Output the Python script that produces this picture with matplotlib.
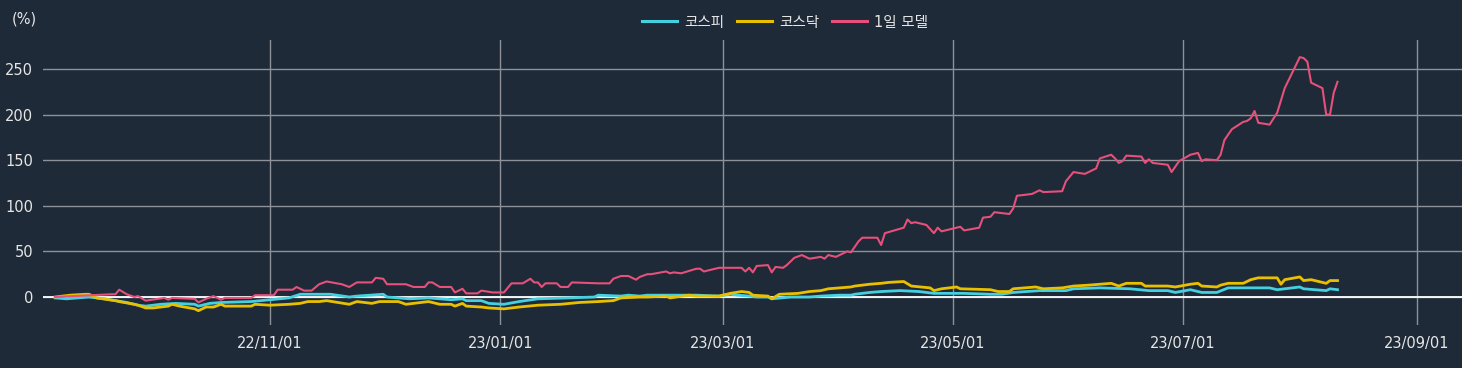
import numpy as np
import matplotlib
matplotlib.use("Agg")
import matplotlib.pyplot as plt
import matplotlib.dates as mdates

plt.rcParams['font.family'] = ['DejaVu Sans', 'Noto Sans CJK KR']

# ---- data: x = days since 2022-11-01, y = return (%) ----
base_date = np.datetime64('2022-11-01')

kospi_days = [-57, -54, -48, -44, -41, -38, -36, -35, -33, -29, -25, -20, -19, -16, -13, -5, 0, 5, 8, 16,
              21, 23, 30, 31, 37, 42, 45, 48, 51, 52, 56, 58, 62, 66, 71, 79, 86, 87, 93, 95, 98,
              100, 103, 113, 119, 122, 124, 127, 129, 132, 133, 138, 143, 146, 151, 154, 155, 159, 162, 167,
              172, 176, 178, 184, 191, 194, 197, 204, 211, 213, 220, 228, 233, 238, 240, 244, 246,
              247, 251, 254, 265, 267, 273, 274, 280, 281, 283]
kospi_vals = [-1, -2, 0, -2, -4, -6, -8, -9, -10, -8, -7, -8, -10, -7, -6, -5, -3, -1, 3, 3,
              0, 1, 3, 0, -2, -1, -2, -3, -2, -4, -4, -7, -8, -5, -2, -1, 0, 2, 1, 2, 1,
              2, 2, 2, 1, 3, 2, 1, 0, 0, -2, 0, 0, 1, 2, 2, 3, 5, 6, 7,
              6, 4, 4, 4, 3, 3, 5, 7, 7, 9, 10, 9, 7, 7, 5, 8, 6,
              5, 5, 10, 10, 8, 11, 9, 7, 9, 8]

kosdaq_days = [-57, -53, -49, -48, -46, -41, -40, -36, -35, -33, -31, -27, -26, -24, -20, -19, -17, -15, -13, -12,
               -5, -4, 0, 5, 8, 10, 13, 15, 21, 23, 27, 29, 34, 36, 42, 45, 48, 49, 51, 52, 56, 58, 62, 66,
               71, 77, 82, 87, 91, 93, 98, 100, 105, 106, 111, 113, 119, 122, 125, 127, 128, 132, 133, 135,
               140, 143, 146, 148, 154, 155, 157, 159, 162, 164, 168, 170, 175, 176, 178, 182, 183, 191,
               193, 196, 197, 203, 205, 210, 213, 217, 220, 223, 225, 227, 231, 232, 238, 240, 244, 246,
               247, 251, 252, 254, 258, 260, 262, 267, 268, 269, 273, 274, 276, 280, 281, 283]
kosdaq_vals = [0, 2, 3, 3, -1, -4, -5, -8, -9, -12, -12, -10, -8, -10, -13, -15, -11, -11, -8, -10,
               -10, -8, -9, -8, -7, -5, -5, -4, -8, -5, -7, -5, -5, -8, -5, -8, -8, -10, -7, -10, -11, -12, -13, -11,
               -9, -8, -6, -5, -4, -1, 0, 0, 1, -1, 2, 1, 1, 4, 6, 5, 2, 1, -2, 3,
               4, 6, 7, 9, 11, 12, 13, 14, 15, 16, 17, 12, 10, 7, 9, 11, 9, 8,
               6, 6, 9, 11, 9, 10, 12, 13, 14, 15, 12, 15, 15, 12, 12, 11, 14, 15,
               12, 11, 13, 15, 15, 19, 21, 21, 14, 19, 22, 18, 19, 15, 18, 18]

model_days = [-57, -47, -42, -41, -40, -38, -36, -35, -33, -28, -27, -26, -20, -19, -17, -15, -13, -12, -5, -4,
              1, 2, 6, 7, 9, 11, 13, 15, 19, 21, 23, 27, 28, 30, 31, 36, 38, 41, 42, 43, 45, 48, 49, 51, 52,
              55, 56, 59, 62, 64, 67, 69, 70, 71, 72, 73, 76, 77, 79, 80, 87, 90, 91, 93, 95, 97, 98,
              100, 101, 105, 106, 107, 109, 113, 114, 115, 119, 125, 126, 127, 128, 129, 132, 133, 134, 136,
              137, 139, 141, 143, 146, 147, 148, 150, 153, 154, 156, 157, 161, 162, 163, 168, 169, 170, 171,
              174, 176, 177, 178, 183, 184, 188, 189, 191, 192, 196, 197, 198, 202, 204, 205, 210, 211, 213,
              216, 219, 220, 223, 224, 225, 226, 227, 231, 232, 233, 234, 238, 239, 241, 244, 246,
              247, 248, 251, 252, 253, 255, 258, 259, 260, 261, 262, 265, 267, 269, 271, 273, 274, 275, 276,
              279, 280, 281, 282, 283]
model_vals = [0, 2, 3, 3, 8, 3, 0, 1, -4, -1, -3, -1, -2, -6, -2, 1, -3, -1, -1, 2,
              2, 8, 8, 11, 7, 7, 14, 17, 14, 11, 16, 16, 21, 20, 14, 14, 11, 11, 16, 16, 11, 11, 5, 9, 4,
              4, 7, 5, 5, 15, 15, 20, 16, 16, 11, 15, 15, 11, 11, 16, 15, 15, 20, 23, 23, 19, 22,
              25, 25, 28, 26, 27, 26, 31, 31, 28, 32, 32, 28, 32, 27, 34, 35, 27, 33, 32,
              35, 43, 46, 42, 44, 42, 46, 44, 50, 49, 61, 65, 65, 57, 70, 76, 85, 81, 82,
              79, 70, 76, 72, 77, 73, 76, 87, 88, 93, 91, 97, 111, 113, 117, 115, 116, 127, 137,
              135, 141, 152, 156, 152, 147, 149, 155, 154, 147, 151, 147, 145, 137, 149, 156, 158,
              149, 151, 150, 156, 172, 184, 192, 193, 196, 204, 191, 189, 202, 229, 246, 263, 262, 258, 235,
              229, 200, 200, 224, 236]

series_names = ['코스피', '코스닥', '1일 모델']
y_ticks = [0, 50, 100, 150, 200, 250]
x_tick_dates = ['2022-11-01', '2023-01-01', '2023-03-01', '2023-05-01', '2023-07-01', '2023-09-01']

# ---- style ----
BG = '#1e2a38'
GRID = '#8e9298'
TXT = '#e6e6e6'
COLORS = ['#45d0e0', '#e8c000', '#e6507a']


def to_dates(days):
    return base_date + np.array(days).astype('timedelta64[D]')


fig = plt.figure(figsize=(14.62, 3.68), dpi=100, facecolor=BG)
ax = fig.add_axes([43 / 1462, 1 - 325 / 368, 1 - 43 / 1462, (325 - 40) / 368])
ax.set_facecolor(BG)

ax.plot(to_dates(kospi_days), kospi_vals, color=COLORS[0], lw=2.0, label=series_names[0], zorder=3)
ax.plot(to_dates(kosdaq_days), kosdaq_vals, color=COLORS[1], lw=2.0, label=series_names[1], zorder=4)
ax.plot(to_dates(model_days), model_vals, color=COLORS[2], lw=1.5, label=series_names[2], zorder=5)

ax.axhline(0, color='white', lw=1.3, zorder=2)

ax.set_xlim(base_date - np.timedelta64(60, 'D') - np.timedelta64(5, 'h'),
            base_date + np.timedelta64(316, 'D'))
ax.set_ylim(-30.7, 281.8)

ax.set_yticks(y_ticks)
ax.set_xticks([np.datetime64(d) for d in x_tick_dates])
ax.xaxis.set_major_formatter(mdates.DateFormatter('%y/%m/%d'))

ax.grid(True, color=GRID, lw=1.0, zorder=1)
ax.set_axisbelow(True)

for s in ax.spines.values():
    s.set_visible(False)
ax.tick_params(axis='both', length=0, colors=TXT, labelsize=10.5)
ax.tick_params(axis='y', pad=7)
ax.tick_params(axis='x', pad=8)

fig.text(12 / 1462, 1 - 19 / 368, '(%)', color=TXT, fontsize=10.5, ha='left', va='center')

leg = fig.legend(loc='center', bbox_to_anchor=(785 / 1462, 1 - 22 / 368), ncol=3, frameon=False,
                 fontsize=10.5, handlelength=2.4, handletextpad=0.45, columnspacing=0.9)
for t in leg.get_texts():
    t.set_color(TXT)
for h in leg.legend_handles:
    h.set_linewidth(2.2)

fig.savefig('out.png', dpi=100, facecolor=BG)
